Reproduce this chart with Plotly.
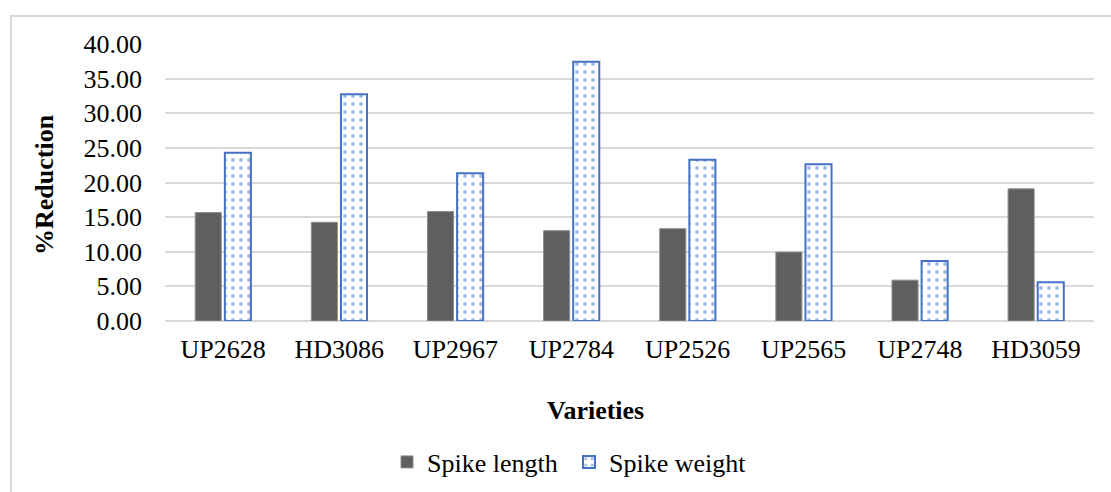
import plotly.graph_objects as go

varieties = ["UP2628", "HD3086", "UP2967", "UP2784", "UP2526", "UP2565", "UP2748", "HD3059"]
spike_length = [15.65, 14.25, 15.80, 13.04, 13.33, 9.95, 5.90, 19.08]
spike_weight = [24.30, 32.75, 21.35, 37.43, 23.30, 22.65, 8.65, 5.60]
y_ticks = [0, 5, 10, 15, 20, 25, 30, 35, 40]

W, H = 1111, 492
ML, MR, MT, MB = 165, 17, 44, 171
PW, PH = W - ML - MR, H - MT - MB

FONT = "Liberation Serif, Times New Roman, serif"


def px_x(x):
    return (x - ML) / PW


def px_y(y):
    return (H - MB - y) / PH


fig = go.Figure()
fig.add_trace(go.Bar(
    x=varieties, y=spike_length, name="Spike length",
    marker=dict(color="#5F5F5F", line=dict(color="#8C8C8C", width=1)),
))
fig.add_trace(go.Bar(
    x=varieties, y=spike_weight, name="Spike weight",
    marker=dict(
        color="white",
        line=dict(color="#4472C4", width=2),
        pattern=dict(shape=".", fgcolor="#4472C4", bgcolor="white",
                     size=8, solidity=0.18),
    ),
))

fig.update_layout(
    width=W, height=H,
    margin=dict(l=ML, r=MR, t=MT, b=MB, autoexpand=False),
    paper_bgcolor="white", plot_bgcolor="white",
    font=dict(family=FONT, size=26, color="black"),
    barmode="group", bargap=0.49, bargroupgap=0.12,
    showlegend=True,
    legend=dict(
        orientation="h", xanchor="left", yanchor="middle",
        x=px_x(387), y=px_y(462),
        font=dict(family=FONT, size=26, color="black"),
        itemwidth=30, entrywidth=137, entrywidthmode="pixels",
        bgcolor="rgba(0,0,0,0)",
    ),
    xaxis=dict(
        showgrid=False, showline=False, zeroline=False,
        ticks="", ticklabelstandoff=10,
        tickfont=dict(family=FONT, size=26, color="black"),
    ),
    yaxis=dict(
        range=[0, 40], tickvals=y_ticks, tickformat=".2f",
        showgrid=True, gridcolor="#D9D9D9", gridwidth=1.5,
        zeroline=True, zerolinecolor="#D9D9D9", zerolinewidth=1.5,
        showline=False, ticks="", ticklabelstandoff=22,
        tickfont=dict(family=FONT, size=26, color="black"),
    ),
    shapes=[dict(
        type="rect", xref="paper", yref="paper",
        x0=px_x(11), x1=px_x(1130), y0=px_y(520), y1=px_y(16),
        line=dict(color="#D9D9D9", width=2), fillcolor="rgba(0,0,0,0)",
        layer="below",
    )],
    annotations=[
        dict(text="<b>%Reduction</b>", textangle=-90, xref="paper", yref="paper",
             x=px_x(44), y=px_y(185), xanchor="center", yanchor="middle",
             showarrow=False, font=dict(family=FONT, size=26, color="black")),
        dict(text="<b>Varieties</b>", xref="paper", yref="paper",
             x=px_x(595), y=px_y(410), xanchor="center", yanchor="middle",
             showarrow=False, font=dict(family=FONT, size=26, color="black")),
    ],
)

fig.write_html("out.html")
